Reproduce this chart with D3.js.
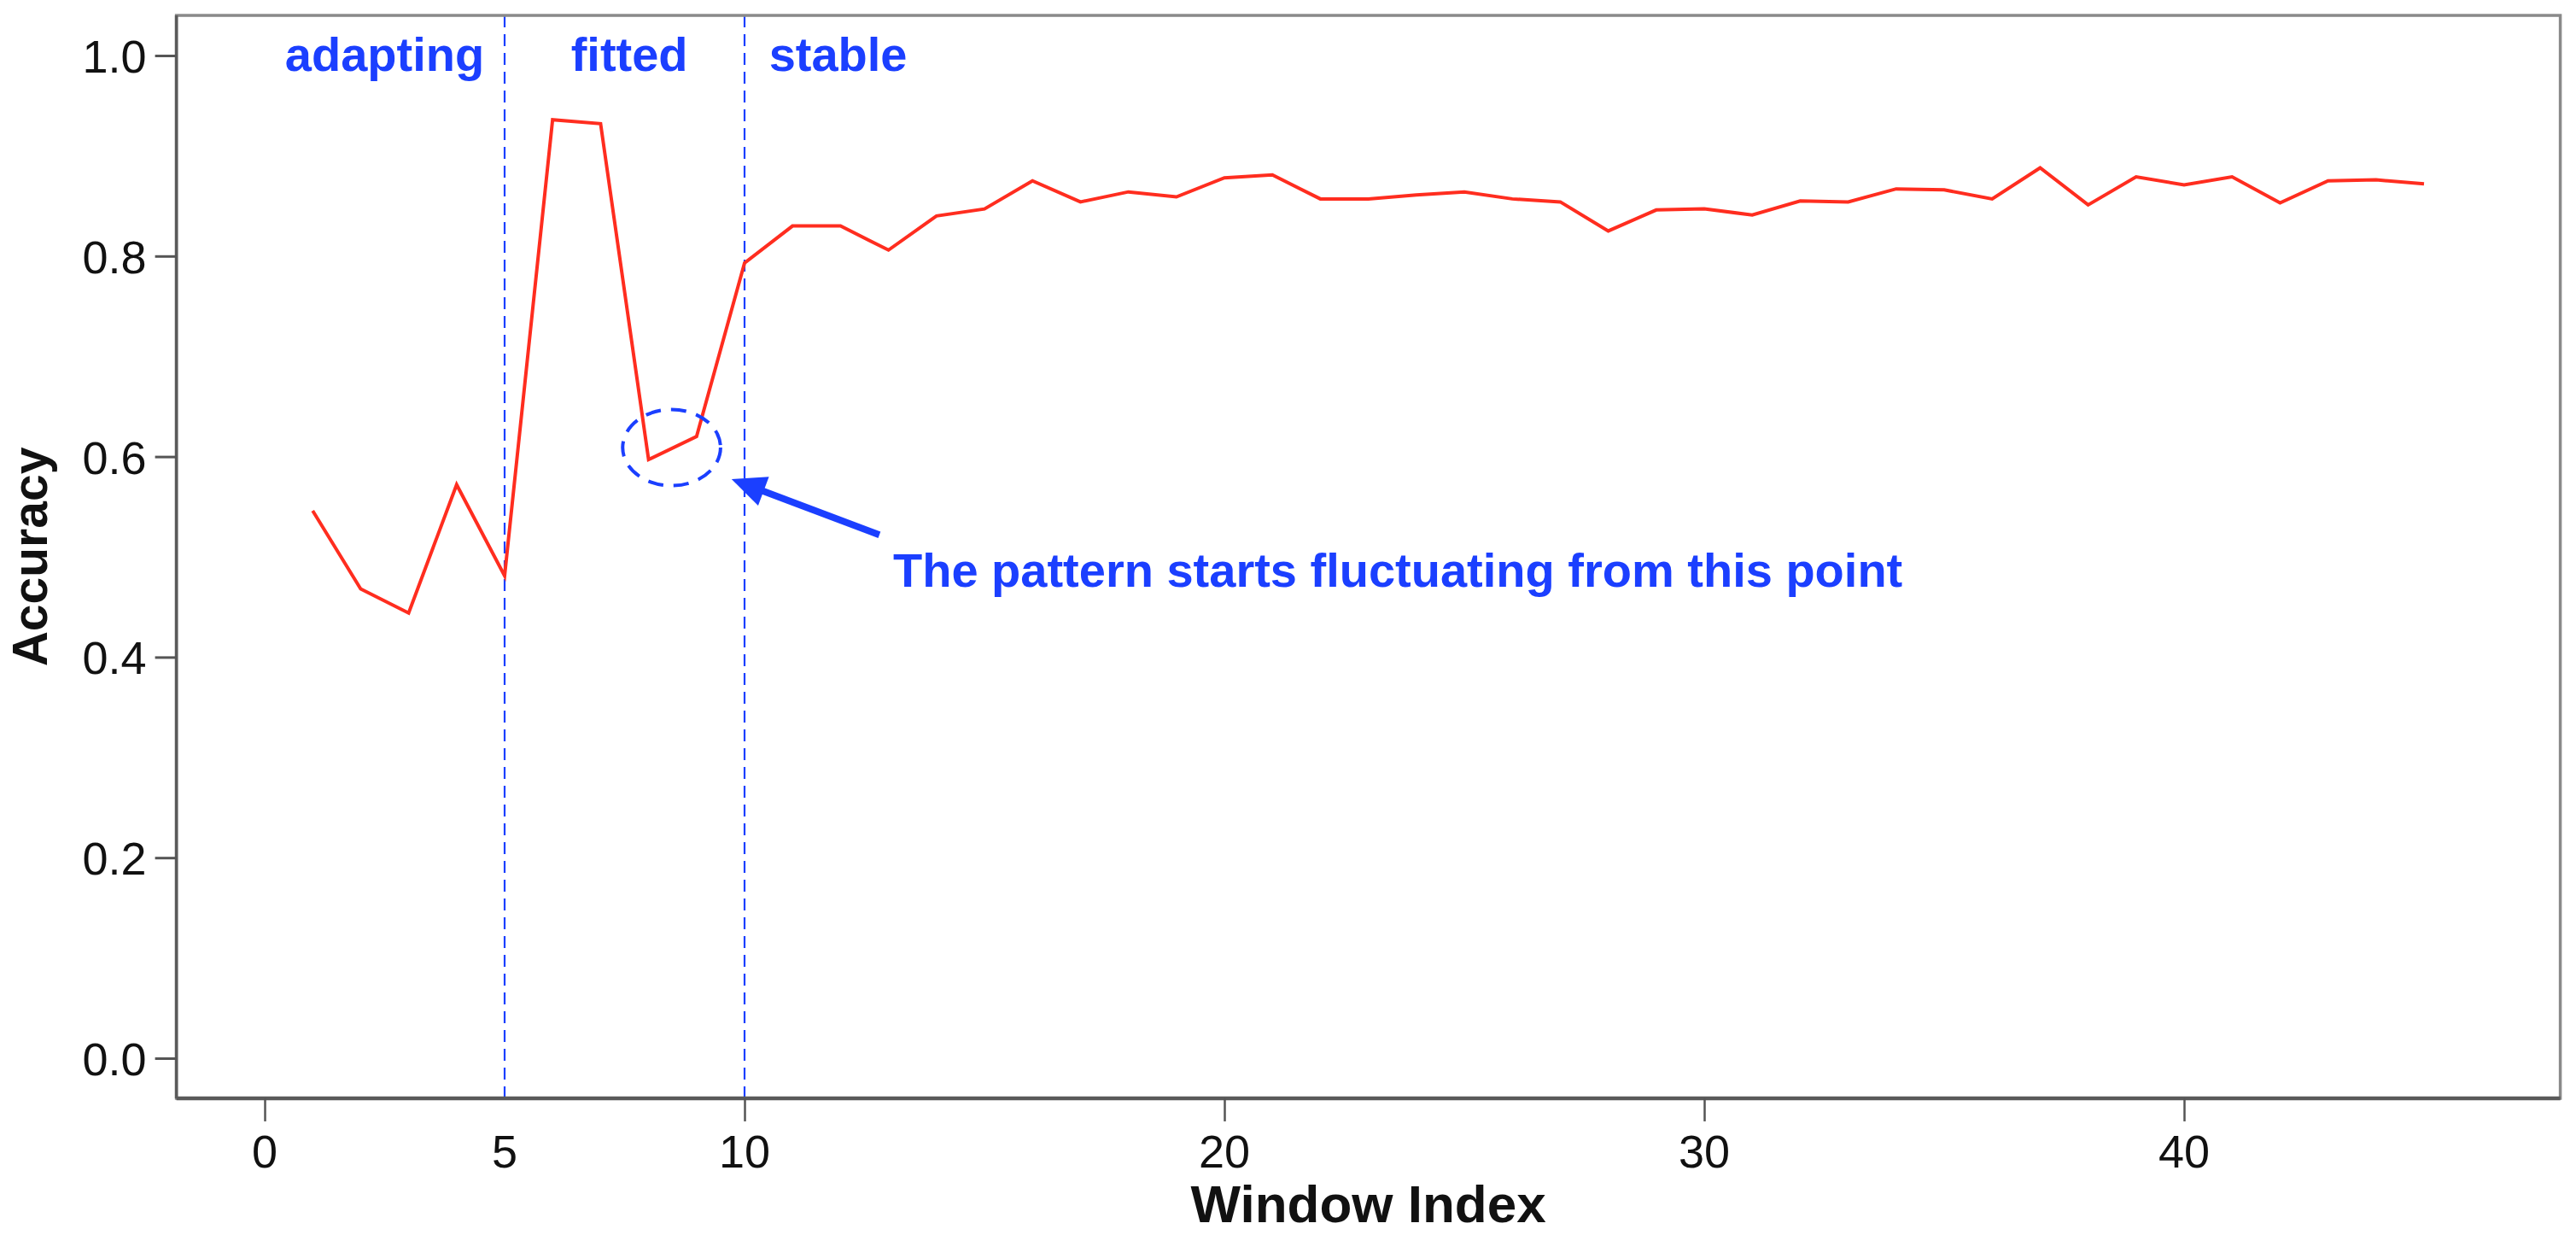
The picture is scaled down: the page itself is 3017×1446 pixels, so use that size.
<!DOCTYPE html>
<html>
<head>
<meta charset="utf-8">
<script src="https://cdn.jsdelivr.net/npm/d3@7"></script>
<style>
  html,body{margin:0;padding:0;background:#fff;}
  text{font-family:"Liberation Sans",Arial,Helvetica,sans-serif;}
</style>
</head>
<body>
<div id="chart"></div>
<script>
const windows=d3.range(1,46);
const accuracy=[0.546,0.468,0.444,0.572,0.481,0.936,0.932,0.597,0.620,0.793,
  0.830,0.830,0.806,0.840,0.847,0.875,0.854,0.864,0.859,0.878,
  0.881,0.857,0.857,0.861,0.864,0.857,0.854,0.825,0.846,0.847,
  0.841,0.855,0.854,0.867,0.866,0.857,0.888,0.851,0.879,0.871,
  0.879,0.853,0.875,0.876,0.872];
const xTickLines=[0,10,20,30,40];
const xTickLabels=[0,5,10,20,30,40];
const yTicks=[0,0.2,0.4,0.6,0.8,1.0];
const phaseBreaks=[5,10];
const phaseNames=["adapting","fitted","stable"];
const phaseLabelX=[2.5,7.6,11.95];
const note="The pattern starts fluctuating from this point";
const circleAt={x:8.48,y:0.609,rx:1.02,ry:0.038};
const arrowFrom={x:12.81,y:0.522}, arrowTo={x:9.73,y:0.5775};

(function(){
  const W=3017,H=1446, blue="#1b3fff", red="#ff2d1f";
  const svg=d3.select("#chart").append("svg").attr("width",W).attr("height",H);
  svg.append("rect").attr("width",W).attr("height",H).attr("fill","#fff");

  const x=d3.scaleLinear().domain([-1.84,47.84]).range([206.6,2998.6]);
  const y=d3.scaleLinear().domain([-0.04,1.04]).range([1285.96,18.04]);
  const [x0,x1]=x.range(), [y0,y1]=y.range();

  // phase separators
  svg.selectAll("line.phase").data(phaseBreaks).join("line").attr("class","phase")
    .attr("x1",d=>x(d)).attr("x2",d=>x(d)).attr("y1",y1).attr("y2",y0)
    .attr("stroke",blue).attr("stroke-width",2.2).attr("stroke-dasharray","14 8");

  // accuracy line
  const line=d3.line().x((d,i)=>x(windows[i])).y(d=>y(d));
  svg.append("path").datum(accuracy).attr("d",line).attr("fill","none")
    .attr("stroke",red).attr("stroke-width",4).attr("stroke-linejoin","miter");

  // frame
  svg.append("rect").attr("x",x0).attr("y",y1).attr("width",x1-x0).attr("height",y0-y1)
    .attr("fill","none").attr("stroke","#8a8a8a").attr("stroke-width",3.5);
  svg.append("line").attr("x1",x0).attr("x2",x1).attr("y1",y0).attr("y2",y0)
    .attr("stroke","#5a5a5a").attr("stroke-width",4.5);
  svg.append("line").attr("x1",x0).attr("x2",x0).attr("y1",y1).attr("y2",y0)
    .attr("stroke","#5a5a5a").attr("stroke-width",3.5);

  // y axis
  const ya=svg.append("g").attr("transform",`translate(${x0},0)`)
    .call(d3.axisLeft(y).tickValues(yTicks).tickFormat(d3.format(".1f")).tickSize(25).tickPadding(10));
  ya.select(".domain").remove();
  ya.selectAll("line").attr("stroke","#555").attr("stroke-width",3);
  ya.selectAll("text").attr("fill","#111").attr("font-size",54)
    .attr("font-family","'Liberation Sans',Arial,sans-serif").attr("dy","0.36em");

  // x axis
  const xa=svg.append("g").attr("transform",`translate(0,${y0})`)
    .call(d3.axisBottom(x).tickValues(xTickLines).tickFormat("").tickSize(27));
  xa.select(".domain").remove();
  xa.selectAll("line").attr("stroke","#555").attr("stroke-width",2.5);
  svg.selectAll("text.xt").data(xTickLabels).join("text").attr("class","xt")
    .attr("x",d=>x(d)).attr("y",1367).attr("text-anchor","middle")
    .attr("font-size",54).attr("fill","#111").text(d=>d);

  // axis titles
  svg.append("text").attr("x",(x0+x1)/2).attr("y",1431).attr("text-anchor","middle")
    .attr("font-size",62).attr("font-weight","bold").attr("fill","#111").text("Window Index");
  svg.append("text").attr("transform",`translate(55,${(y0+y1)/2}) rotate(-90)`)
    .attr("text-anchor","middle").attr("font-size",57).attr("font-weight","bold")
    .attr("fill","#111").text("Accuracy");

  // phase labels
  svg.selectAll("text.pl").data(phaseNames).join("text").attr("class","pl")
    .attr("x",(d,i)=>x(phaseLabelX[i])).attr("y",83).attr("text-anchor","middle")
    .attr("font-size",56).attr("font-weight","bold").attr("fill",blue).text(d=>d);

  // dashed circle round the dip
  svg.append("ellipse").attr("cx",x(circleAt.x)).attr("cy",y(circleAt.y))
    .attr("rx",x(circleAt.x+circleAt.rx)-x(circleAt.x))
    .attr("ry",y(circleAt.y-circleAt.ry)-y(circleAt.y))
    .attr("fill","none").attr("stroke",blue).attr("stroke-width",4).attr("stroke-dasharray","18 12");

  // arrow
  const ax=x(arrowFrom.x), ay=y(arrowFrom.y), bx=x(arrowTo.x), by=y(arrowTo.y);
  const len=Math.hypot(bx-ax,by-ay), ux=(bx-ax)/len, uy=(by-ay)/len, hl=40, hw=18;
  const baseX=bx-ux*hl, baseY=by-uy*hl;
  svg.append("line").attr("x1",ax).attr("y1",ay).attr("x2",baseX+ux*4).attr("y2",baseY+uy*4)
    .attr("stroke",blue).attr("stroke-width",8);
  svg.append("path").attr("fill",blue).attr("d",
    `M${bx},${by}L${baseX-uy*hw},${baseY+ux*hw}L${baseX+uy*hw},${baseY-ux*hw}Z`);

  svg.append("text").attr("x",1046).attr("y",687).attr("font-size",56)
    .attr("font-weight","bold").attr("fill",blue).text(note);
})();
</script>
</body>
</html>
